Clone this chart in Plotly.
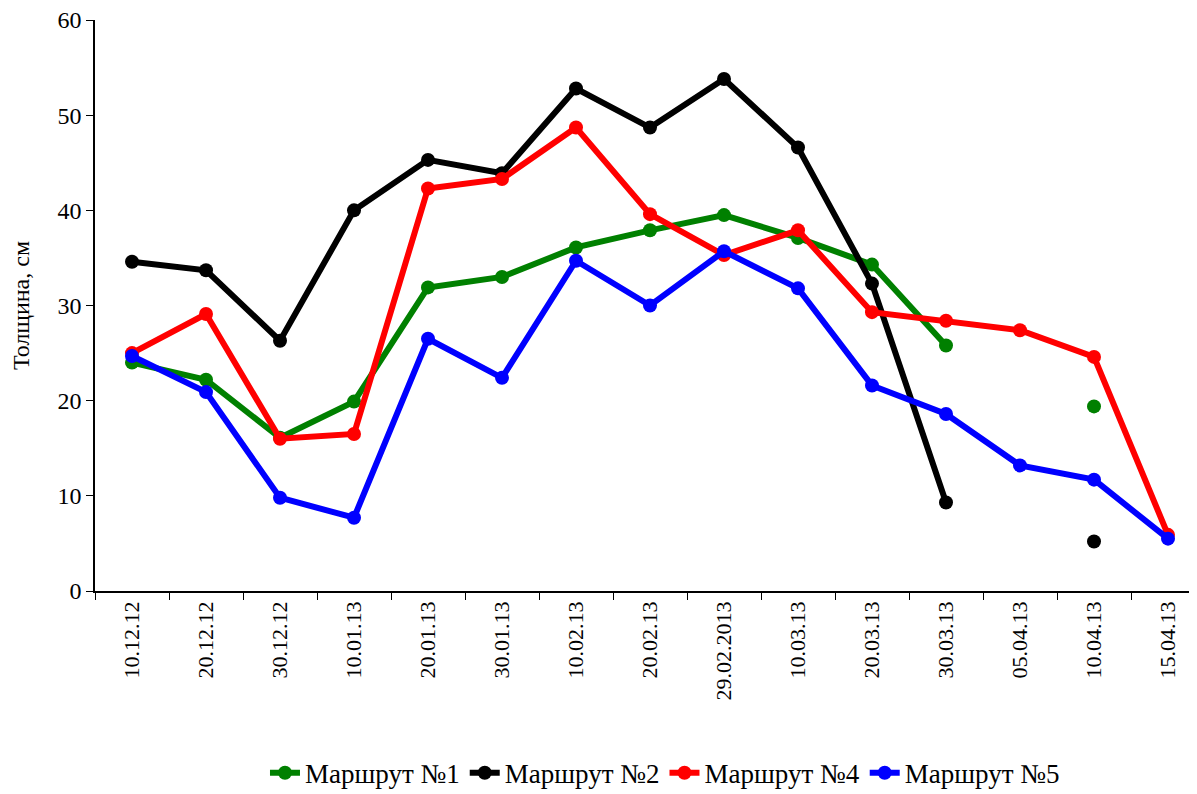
import plotly.graph_objects as go

dates = ["10.12.12", "20.12.12", "30.12.12", "10.01.13", "20.01.13", "30.01.13",
         "10.02.13", "20.02.13", "29.02.2013", "10.03.13", "20.03.13", "30.03.13",
         "05.04.13", "10.04.13", "15.04.13"]

route1 = [24.0, 22.2, 16.1, 19.9, 31.9, 33.0, 36.1, 37.9, 39.5, 37.1, 34.3, 25.8, None, 19.4, None]
route2 = [34.6, 33.7, 26.3, 40.0, 45.3, 43.9, 52.8, 48.7, 53.8, 46.6, 32.3, 9.3, None, 5.2, None]
route4 = [25.0, 29.1, 16.0, 16.5, 42.3, 43.3, 48.7, 39.6, 35.3, 37.9, 29.3, 28.4, 27.4, 24.6, 5.9]
route5 = [24.7, 20.9, 9.8, 7.7, 26.5, 22.4, 34.7, 30.0, 35.7, 31.8, 21.6, 18.6, 13.2, 11.7, 5.5]

series = [("Маршрут №1", route1, "#008000"),
          ("Маршрут №2", route2, "#000000"),
          ("Маршрут №4", route4, "#ff0000"),
          ("Маршрут №5", route5, "#0000ff")]

fig = go.Figure()
for name, vals, col in series:
    fig.add_trace(go.Scatter(x=dates, y=vals, name=name, mode="lines+markers",
                             connectgaps=False,
                             line=dict(color=col, width=6),
                             marker=dict(color=col, size=14)))

# page body has an 8px margin, so the figure is shifted by 8px
font = "Liberation Serif, Times New Roman, serif"
fig.update_layout(
    width=1197, height=794,
    margin=dict(l=87, r=0, t=12, b=211, autoexpand=False),
    paper_bgcolor="white", plot_bgcolor="white",
    font=dict(family=font, size=22, color="black"),
    showlegend=True,
    legend=dict(orientation="h", x=0.5135, xanchor="center", y=-0.319, yanchor="middle",
                font=dict(size=27), tracegroupgap=0),
    xaxis=dict(type="category", range=[-0.5, 14.5], automargin=False,
               tickangle=-90, showline=True, linecolor="black",
               linewidth=1.5, ticks="outside", tickson="boundaries", ticklen=7,
               tickcolor="black", showgrid=False, tickfont=dict(size=22)),
    yaxis=dict(range=[0, 60], dtick=10, automargin=False, showline=True,
               linecolor="black", linewidth=1.5, ticks="outside", ticklen=7,
               tickcolor="black", showgrid=False, zeroline=False,
               tickfont=dict(size=24), ticklabeloverflow="allow",
               title=dict(text="Толщина, см", font=dict(size=24), standoff=26)),
)

fig.write_html("out.html")
